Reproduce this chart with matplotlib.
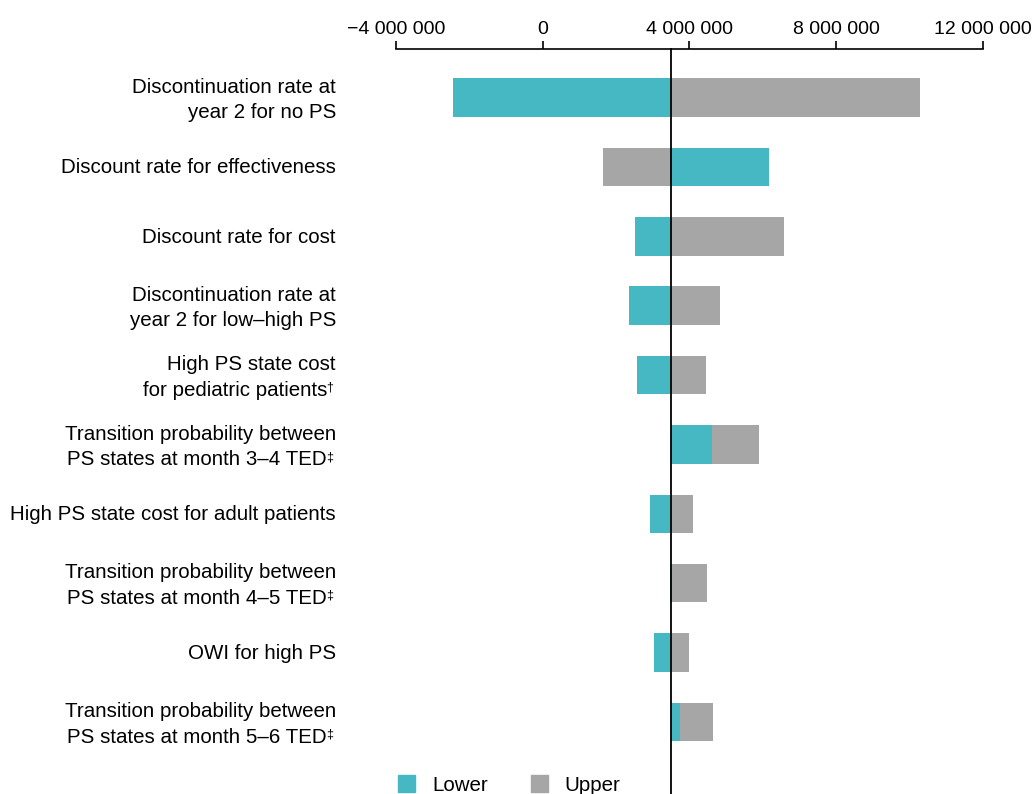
import matplotlib
matplotlib.use('Agg')
import matplotlib.pyplot as plt
from matplotlib.patches import Patch
from matplotlib.ticker import FuncFormatter
from matplotlib.transforms import offset_copy

plt.rcParams['font.family'] = ['Liberation Sans', 'DejaVu Sans']

# tornado data (incremental cost-effectiveness)
labels = [
    'Discontinuation rate at\nyear 2 for no PS',
    'Discount rate for effectiveness',
    'Discount rate for cost',
    'Discontinuation rate at\nyear 2 for low\u2013high PS',
    'High PS state cost\nfor pediatric patients',
    'Transition probability between\nPS states at month 3\u20134 TED',
    'High PS state cost for adult patients',
    'Transition probability between\nPS states at month 4\u20135 TED',
    'OWI for high PS',
    'Transition probability between\nPS states at month 5\u20136 TED',
]
notes = ['', '', '', '', '\u2020', '\u2021', '', '\u2021', '', '\u2021']
base = 3.5e6
lower = [-2.45e6, 6.17e6, 2.52e6, 2.34e6, 2.57e6, 4.60e6, 2.93e6, 3.46e6, 3.04e6, 3.75e6]
upper = [10.27e6, 1.645e6, 6.56e6, 4.82e6, 4.46e6, 5.89e6, 4.10e6, 4.49e6, 3.99e6, 4.63e6]
xticks = [-4e6, 0, 4e6, 8e6, 12e6]

teal = '#46B8C3'
grey = '#A6A6A6'
fs = 14.8

W, H = 1035, 794
fig = plt.figure(figsize=(W / 100, H / 100), dpi=100)
ax = fig.add_axes([395.7 / W, 0, (983.3 - 395.7) / W, (H - 49) / H])

rows = list(range(len(labels)))
for i in rows:
    # grey (upper) first so the teal bar sits on top when both are on one side
    ax.barh(i, upper[i] - base, left=base, height=0.555, color=grey, linewidth=0)
    ax.barh(i, lower[i] - base, left=base, height=0.555, color=teal, linewidth=0)

ax.axvline(base, color='black', linewidth=1.3, zorder=5, clip_on=False)

ax.set_xlim(-4e6, 12e6)
ax.set_ylim(10.04, -0.70)
ax.xaxis.tick_top()
ax.set_xticks(xticks)
ax.xaxis.set_major_formatter(FuncFormatter(
    lambda v, p: ('\u2212' if v < 0 else '') + f'{abs(v):,.0f}'.replace(',', ' ')))
ax.tick_params(axis='x', which='major', direction='out', length=6, width=1.2,
               pad=2, labelsize=14, colors='black')
ax.set_yticks([])

for s in ['left', 'right', 'bottom']:
    ax.spines[s].set_visible(False)
ax.spines['top'].set_linewidth(1.2)

# row labels, one text per line so the footnote marks stay small
xlab = (336 - 395.7) / 587.6
ytr = ax.get_yaxis_transform()
line_gap = 25.5  # px
for i in rows:
    lines = labels[i].split('\n')
    n = len(lines)
    for j, line in enumerate(lines):
        dy = (j - (n - 1) / 2) * line_gap + (6.3 if n == 1 else 8)
        last = j == n - 1 and notes[i]
        shift = -9 if last else 0
        tr = offset_copy(ytr, fig=fig, x=shift, y=-dy, units='dots')
        ax.text(xlab, i, line, transform=tr, ha='right', va='baseline',
                fontsize=fs, clip_on=False)
        if last:
            tr2 = offset_copy(ytr, fig=fig, x=-3, y=-dy + 5, units='dots')
            ax.text(xlab, i, notes[i], transform=tr2, ha='right', va='baseline',
                    fontsize=9, clip_on=False)

handles = [Patch(color=teal, label='Lower'), Patch(color=grey, label='Upper')]
fig.legend(handles=handles, loc='center left', bbox_to_anchor=(398 / W, 9 / H),
           ncol=2, frameon=False, fontsize=fs, handlelength=0.85, handleheight=0.85,
           handletextpad=0.8, columnspacing=2.1, borderpad=0, borderaxespad=0)

fig.savefig('out.png', dpi=100)
